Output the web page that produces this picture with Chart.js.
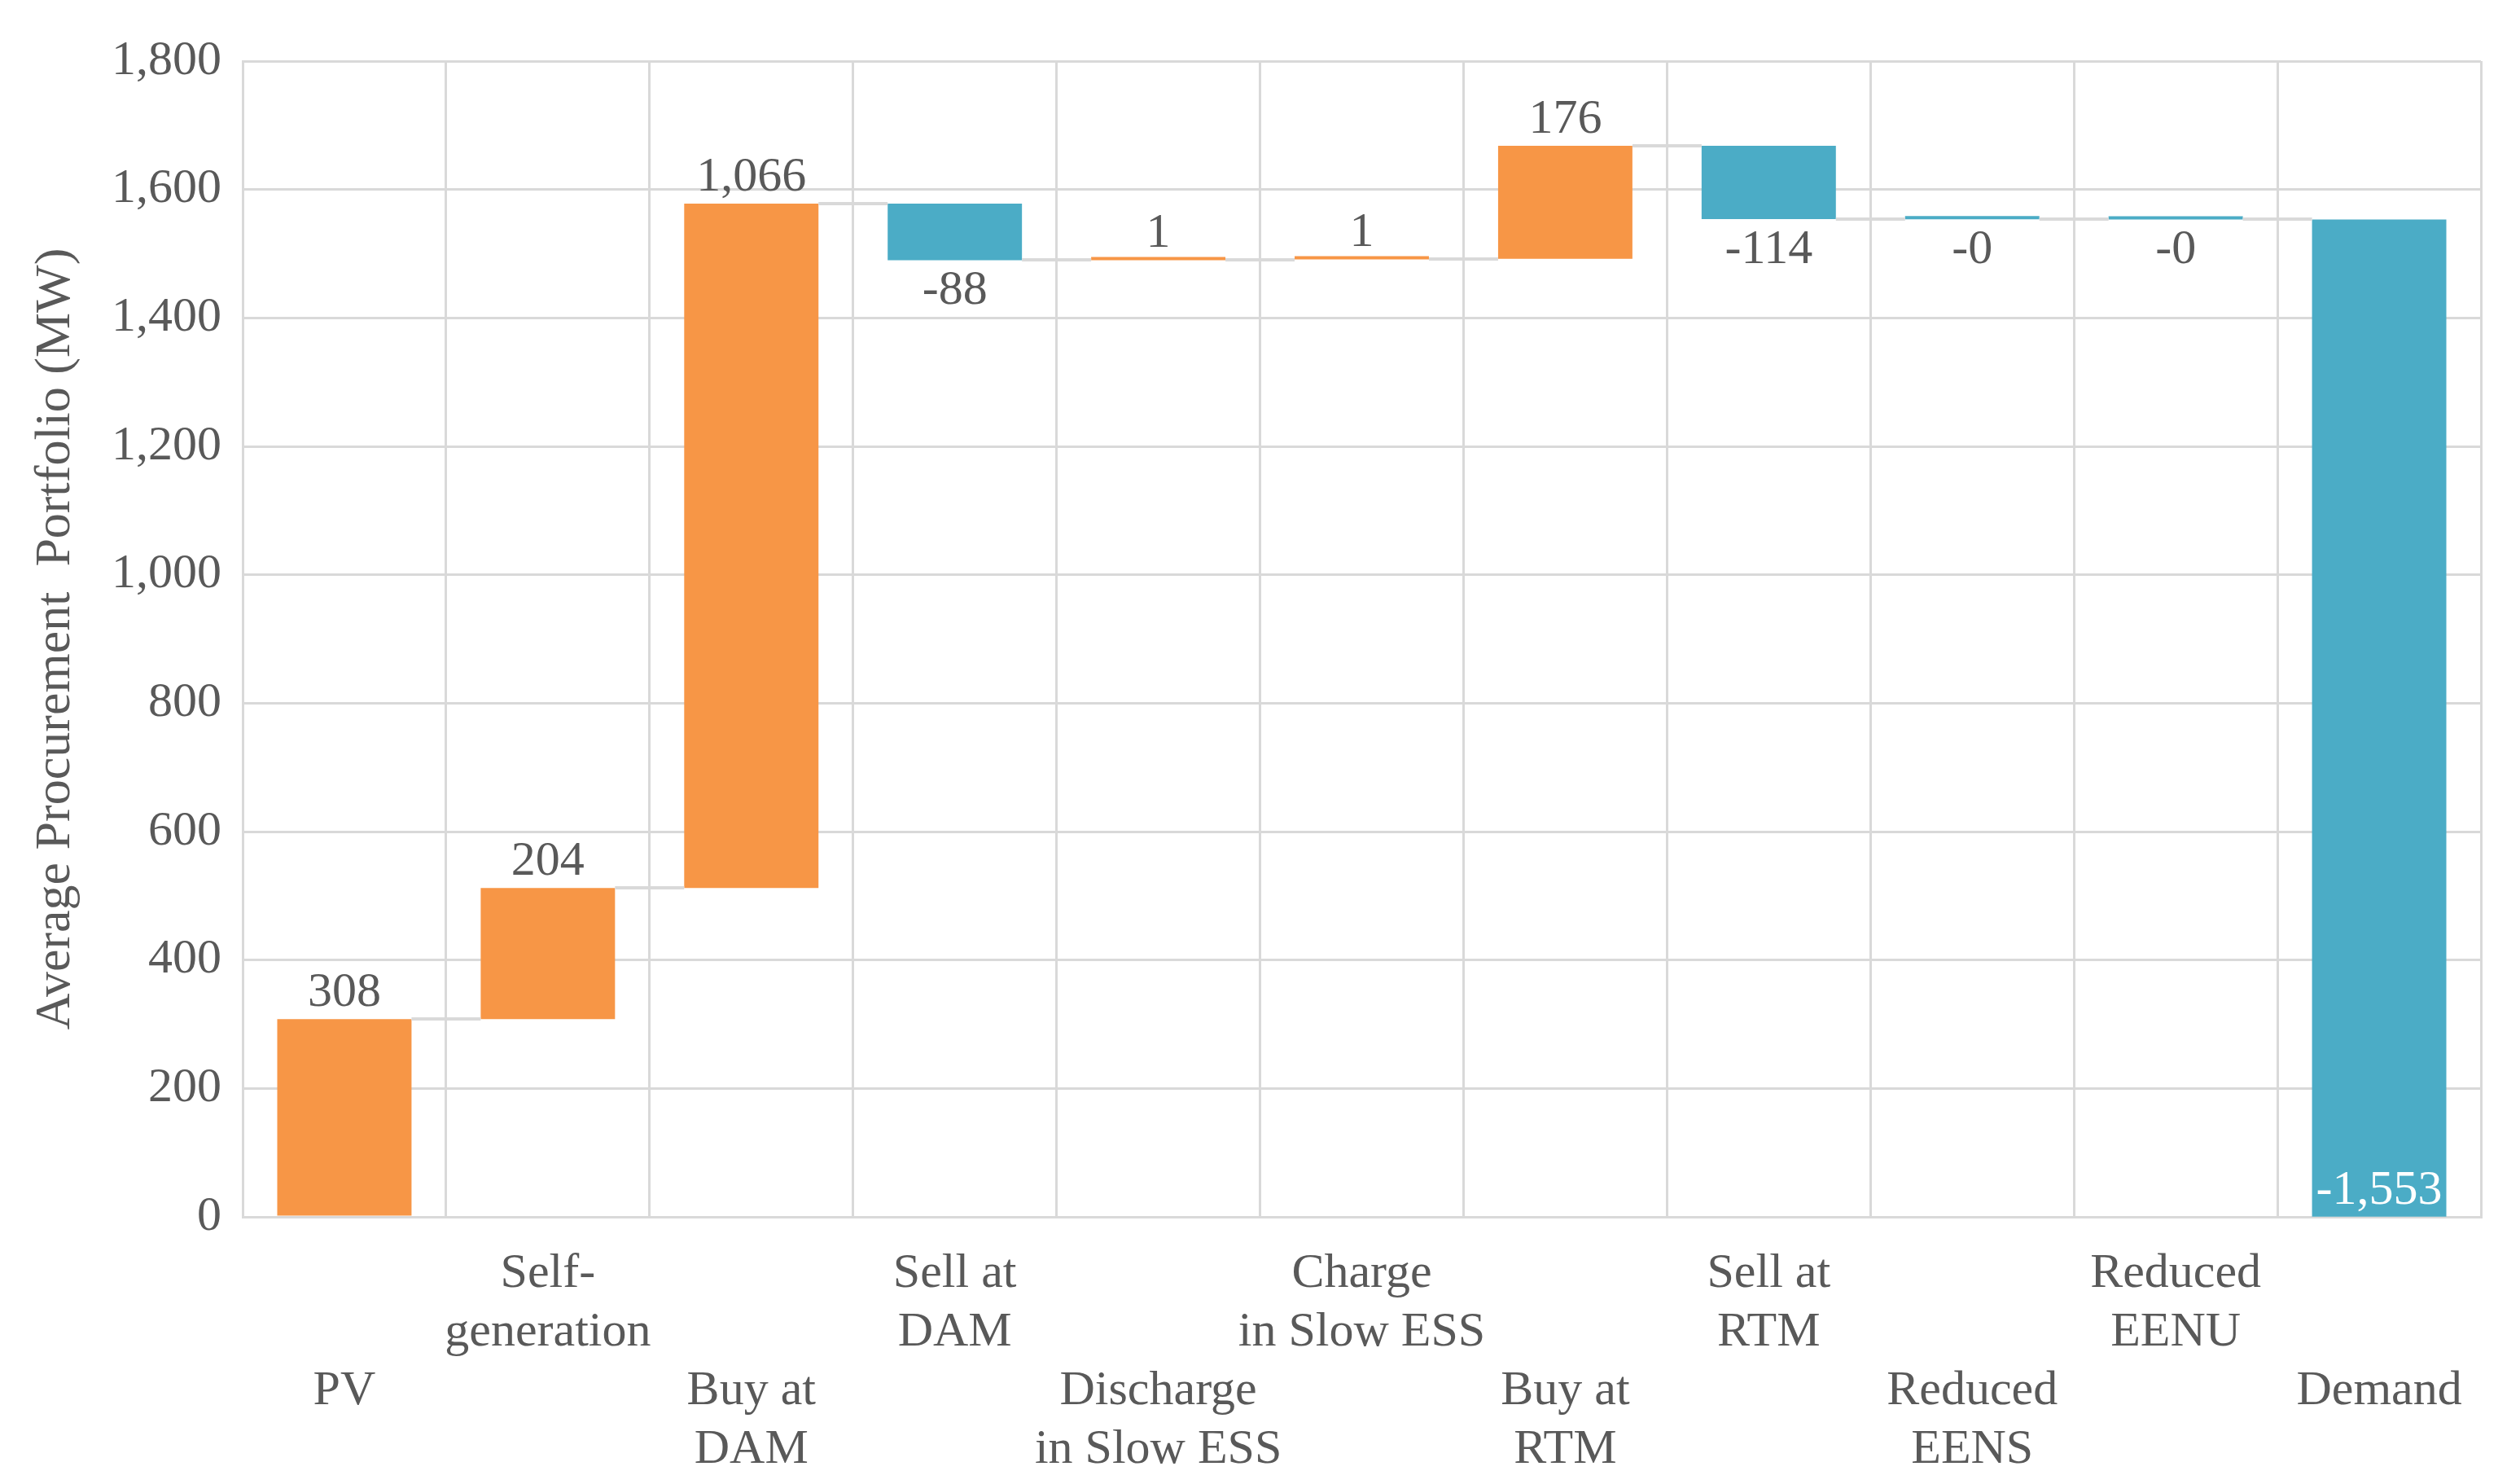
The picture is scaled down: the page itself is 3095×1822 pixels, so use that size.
<!DOCTYPE html>
<html>
<head>
<meta charset="utf-8">
<script src="https://cdn.jsdelivr.net/npm/chart.js@4.4.1/dist/chart.umd.min.js"></script>
<style>
  html, body { margin: 0; padding: 0; background: #ffffff; }
  canvas { display: block; }
</style>
</head>
<body>
<canvas id="waterfall" width="3095" height="1822"></canvas>
<script>
const categories = ["PV", "Self-generation", "Buy at DAM", "Sell at DAM",
                    "Discharge in Slow ESS", "Charge in Slow ESS", "Buy at RTM",
                    "Sell at RTM", "Reduced EENS", "Reduced EENU", "Demand"];
const tickLines = [["PV"], ["Self-", "generation"], ["Buy at", "DAM"], ["Sell at", "DAM"],
                   ["Discharge", "in Slow ESS"], ["Charge", "in Slow ESS"], ["Buy at", "RTM"],
                   ["Sell at", "RTM"], ["Reduced", "EENS"], ["Reduced", "EENU"], ["Demand"]];
const deltas = [308, 204, 1066, -88, 1, 1, 176, -114, -0.3, -0.3, -1553];
const yTicks = [0, 200, 400, 600, 800, 1000, 1200, 1400, 1600, 1800];

const upColor = "#F79646";
const downColor = "#4BACC6";
const textColor = "#595959";
const gridColor = "#d9d9d9";
const fontFamily = '"Liberation Serif", "Times New Roman", serif';

// running level before / after each step
const levels = [0];
deltas.forEach((d, i) => levels.push(levels[i] + d));
const floating = deltas.map((d, i) => [levels[i], levels[i + 1]]);

function fmt(v) {
  return (v < 0 ? "-" : "") + Math.round(Math.abs(v)).toLocaleString("en-US");
}

const waterfallExtras = {
  id: "waterfallExtras",
  afterDatasetsDraw(chart) {
    const { ctx, chartArea } = chart;
    const y = chart.scales.y;
    const bars = chart.getDatasetMeta(0).data;
    ctx.save();

    // connector lines between bars
    ctx.strokeStyle = gridColor;
    ctx.lineWidth = 4;
    for (let i = 0; i < bars.length - 1; i++) {
      const py = Math.round(y.getPixelForValue(levels[i + 1]));
      ctx.beginPath();
      ctx.moveTo(bars[i].x + bars[i].width / 2, py);
      ctx.lineTo(bars[i + 1].x - bars[i + 1].width / 2, py);
      ctx.stroke();
    }

    // value labels
    ctx.font = "60px " + fontFamily;
    ctx.textAlign = "center";
    ctx.textBaseline = "alphabetic";
    deltas.forEach((d, i) => {
      const x = bars[i].x;
      const top = y.getPixelForValue(Math.max(levels[i], levels[i + 1]));
      const bottom = y.getPixelForValue(Math.min(levels[i], levels[i + 1]));
      if (d >= 0) {
        ctx.fillStyle = textColor;
        ctx.fillText(fmt(d), x, top - 16);
      } else if (bottom + 60 > chartArea.bottom) {
        ctx.fillStyle = "#ffffff";
        ctx.fillText(fmt(d), x, chartArea.bottom - 16);
      } else {
        ctx.fillStyle = textColor;
        ctx.fillText(fmt(d), x, bottom + 54);
      }
    });
    ctx.restore();
  }
};

new Chart("waterfall", {
  type: "bar",
  data: {
    labels: categories,
    datasets: [{
      data: floating,
      backgroundColor: deltas.map(d => d >= 0 ? upColor : downColor),
      borderWidth: 0,
      minBarLength: 4,
      categoryPercentage: 1,
      barPercentage: 0.66
    }]
  },
  options: {
    responsive: false,
    devicePixelRatio: 1,
    animation: false,
    layout: { padding: { top: 75, right: 48, left: 0, bottom: 0 } },
    plugins: {
      legend: { display: false },
      tooltip: { enabled: false }
    },
    scales: {
      x: {
        grid: { color: gridColor, lineWidth: 3, drawTicks: false, offset: true },
        border: { color: gridColor, width: 3 },
        ticks: {
          autoSkip: false,
          maxRotation: 0,
          minRotation: 0,
          padding: 34,
          color: textColor,
          font: { family: fontFamily, size: 60, lineHeight: 1.2 },
          callback: (value, index) => index % 2 === 0 ? ["", ""].concat(tickLines[index]) : tickLines[index]
        },
        afterFit: scale => { scale.height = 328; }
      },
      y: {
        min: yTicks[0],
        max: yTicks[yTicks.length - 1],
        afterBuildTicks: scale => { scale.ticks = yTicks.map(v => ({ value: v })); },
        grid: { color: gridColor, lineWidth: 3, drawTicks: false },
        border: { color: gridColor, width: 3 },
        ticks: {
          padding: 26,
          color: textColor,
          font: { family: fontFamily, size: 60 },
          callback: v => v.toLocaleString("en-US")
        },
        title: {
          display: true,
          text: "Average Procurement  Portfolio (MW)",
          color: textColor,
          font: { family: fontFamily, size: 62, lineHeight: 1.2 },
          padding: { top: 32, bottom: 0 }
        },
        afterFit: scale => { scale.width = 298; }
      }
    }
  },
  plugins: [waterfallExtras]
});
</script>
</body>
</html>
